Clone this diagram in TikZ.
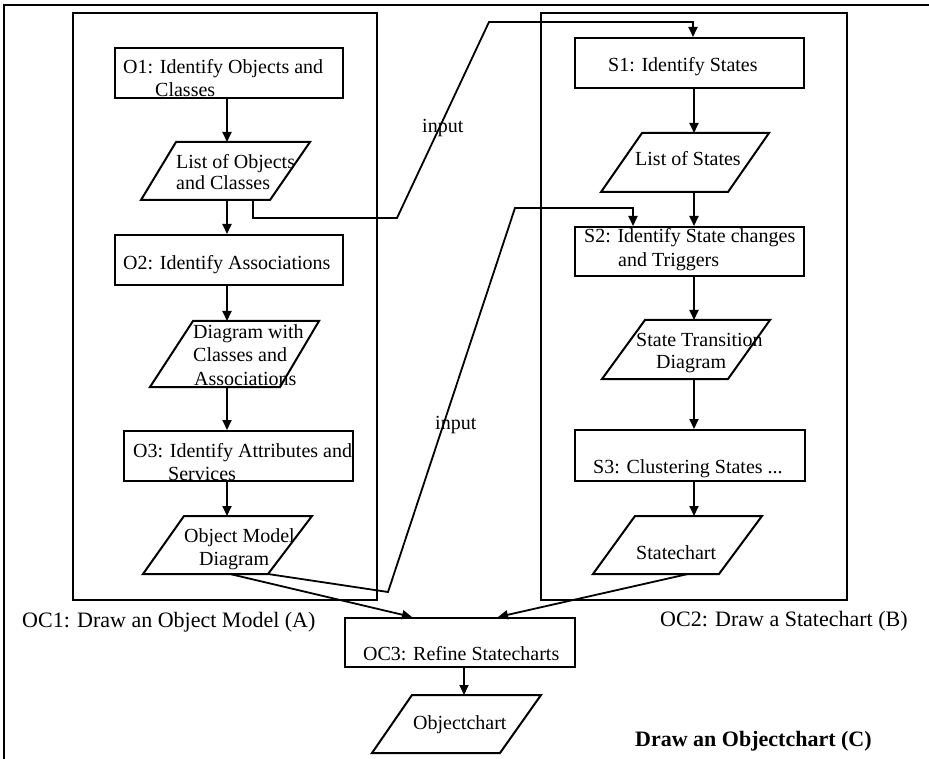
\documentclass[tikz,border=0pt]{standalone}
\usepackage{fontspec}
\setmainfont{Liberation Serif}
\usetikzlibrary{arrows.meta}
\begin{document}
\begin{tikzpicture}[x=1pt,y=-1pt,
  ln/.style={line width=2pt},
  box/.style={draw,line width=2pt,inner sep=0pt},
  para/.style={draw,line width=2pt,line join=miter},
  arr/.style={line width=1.8pt,-{Triangle[length=10pt,width=9pt]}},
  txt/.style={inner sep=0pt,anchor=base west,font=\fontsize{20}{23}\selectfont},
  lbl/.style={inner sep=0pt,anchor=base west,font=\fontsize{22}{25}\selectfont},
  blbl/.style={inner sep=0pt,anchor=base west,font=\fontsize{22}{25}\selectfont\bfseries}]
\useasboundingbox (0,0) rectangle (929,759);
% outer frame (clipped by the page)
\draw[ln] (4,780) -- (4,5) -- (950,5);
% sub-frames
\draw[ln] (73,13) rectangle (377,600);
\draw[ln] (541,13) rectangle (847,600);
% arrow columns
\coordinate (xl) at (227,0);
\coordinate (xr) at (694,0);
\coordinate (xc) at (464,0);
% rectangles
\node[box,minimum width=228,minimum height=50] (O1) at (229,73) {};
\node[box,minimum width=228,minimum height=50] (O2) at (229,260) {};
\node[box,minimum width=229,minimum height=50] (O3) at (238.5,456) {};
\node[box,minimum width=229,minimum height=50] (S1) at (689.5,63) {};
\node[box,minimum width=229,minimum height=49] (S2) at (689.5,251.5) {};
\node[box,minimum width=230,minimum height=51] (S3) at (690,455.5) {};
\node[box,minimum width=230,minimum height=49] (OC3) at (460,642.5) {};
% parallelograms
\draw[para] (176,142) coordinate (L1t) -- (310,142) -- (270,200) -- (141,200) coordinate (L1b) -- cycle;
\draw[para] (193,321) coordinate (L2t) -- (319,321) -- (280,387) -- (150,387) coordinate (L2b) -- cycle;
\draw[para] (184,516) coordinate (L3t) -- (312,516) -- (268,574) coordinate (L3r) -- (143,574) coordinate (L3b) -- cycle;
\draw[para] (642,133) coordinate (LSt) -- (769,133) -- (728,192) -- (601,192) coordinate (LSb) -- cycle;
\draw[para] (645,320) coordinate (LTt) -- (770,320) -- (728,379) -- (602,379) coordinate (LTb) -- cycle;
\draw[para] (635,516) coordinate (SCt) -- (762,516) -- (719,574) -- (593,574) coordinate (SCb) -- cycle;
\draw[para] (412,695) coordinate (OCt) -- (541,695) -- (500,753) -- (372,753) coordinate (OCb) -- cycle;
% texts
\node[txt] (tO1a) at (123,74) {O1: Identify Objects and};
\node[txt] (tO1b) at (155,97) {Classes};
\node[txt] (tL1a) at (176,169) {List of Objects};
\node[txt] (tL1b) at (176,190) {and Classes};
\node[txt] (tO2) at (123,270) {O2: Identify Associations};
\node[txt] (tL2a) at (193,338) {Diagram with};
\node[txt] (tL2b) at (193,361) {Classes and};
\node[txt] (tL2c) at (194,385) {Associations};
\node[txt] (tO3a) at (133,457) {O3: Identify Attributes and};
\node[txt] (tO3b) at (168,480) {Services};
\node[txt] (tL3a) at (184,542) {Object Model};
\node[txt] (tL3b) at (199,565) {Diagram};
\node[lbl] (tA) at (22,627) {OC1: Draw an Object Model (A)};
\node[txt] (tS1) at (608,72) {S1: Identify States};
\node[txt] (tLS) at (635,166) {List of States};
\node[txt] (tS2a) at (584,243) {S2: Identify State changes};
\node[txt] (tS2b) at (618,267) {and Triggers};
\node[txt] (tLTa) at (636,346) {State Transition};
\node[txt] (tLTb) at (656,368) {Diagram};
\node[txt] (tS3) at (593,473) {S3: Clustering States ...};
\node[txt] (tSC) at (636,559) {Statechart};
\node[lbl] (tB) at (660,626) {OC2: Draw a Statechart (B)};
\node[txt] (tOC3) at (363,660) {OC3: Refine Statecharts};
\node[txt] (tOC) at (413,729) {Objectchart};
\node[blbl] (tC) at (635,746) {Draw an Objectchart (C)};
\node[txt] (in1) at (422,133) {input};
\node[txt] (in2) at (435,429) {input};
% vertical flow arrows
\draw[arr] (O1.south -| xl) -- (L1t -| xl);
\draw[arr] (L1b -| xl) -- (O2.north -| xl);
\draw[arr] (O2.south -| xl) -- (L2t -| xl);
\draw[arr] (L2b -| xl) -- (O3.north -| xl);
\draw[arr] (O3.south -| xl) -- (L3t -| xl);
\draw[arr] (S1.south -| xr) -- (LSt -| xr);
\draw[arr] (LSb -| xr) -- (S2.north -| xr);
\draw[arr] (S2.south -| xr) -- (LTt -| xr);
\draw[arr] (LTb -| xr) -- (S3.north -| xr);
\draw[arr] (S3.south -| xr) -- (SCt -| xr);
\draw[arr] (OC3.south -| xc) -- (OCt -| xc);
% input connectors
\coordinate (a1) at (253,218);
\coordinate (a2) at (397,218);
\coordinate (a3) at (489,22);
\coordinate (a4) at (693,22);
\draw[arr,line join=miter] (L1b -| a1) -- (a1) -- (a2) -- (a3) -- (a4) -- (S1.north -| a4);
\coordinate (b1) at (388,592);
\coordinate (b2) at (515,208);
\coordinate (b3) at (633,208);
\draw[arr,line join=miter] (L3r) -- (b1) -- (b2) -- (b3) -- (S2.north -| b3);
% into OC3
\coordinate (c1) at (230,574);
\coordinate (c2) at (412,0);
\draw[arr] (c1) -- (OC3.north -| c2);
\coordinate (d1) at (688,574);
\coordinate (d2) at (498,0);
\draw[arr] (d1) -- (OC3.north -| d2);
\end{tikzpicture}
\end{document}
